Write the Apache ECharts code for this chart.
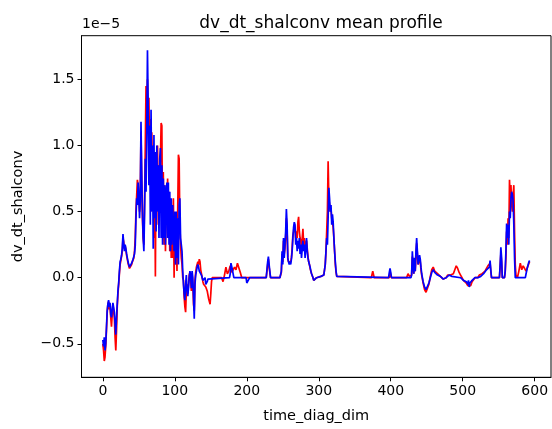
<!DOCTYPE html>
<html lang="en">
<head>
    <meta charset="UTF-8">
    <title>dv_dt_shalconv mean profile</title>
    <script src="https://cdn.jsdelivr.net/npm/echarts@6/dist/echarts.min.js"></script>
    <style>
        html, body { margin: 0; padding: 0; background: #fff; }
        #chart { width: 552px; height: 429px; }
    </style>
</head>
<body>
    <div id="chart"></div>
    <script>
        // values are in units of 1e-5
        const xTicks = [0, 100, 200, 300, 400, 500, 600];
        const yTicks = [-0.5, 0.0, 0.5, 1.0, 1.5];

        // red line (drawn first)
        const redLine = [
            [0,-0.5],[1,-0.55],[2,-0.63],[3,-0.6],[4,-0.52],[5,-0.4],[6,-0.27],[7,-0.2],[8,-0.18],[9,-0.24],
            [10,-0.22],[11,-0.3],[12,-0.37],[13,-0.28],[14,-0.2],[15,-0.21],[16,-0.3],[17,-0.45],[18,-0.55],[19,-0.4],
            [20,-0.22],[21,-0.12],[22,-0.05],[23,0.03],[24,0.1],[25,0.13],[26,0.16],[27,0.2],[28,0.3],[29,0.27],
            [30,0.22],[31,0.24],[32,0.21],[33,0.17],[34,0.14],[35,0.11],[36,0.09],[37,0.07],[38,0.06],[39,0.08],
            [40,0.1],[41,0.12],[42,0.13],[43,0.15],[44,0.2],[45,0.3],[46,0.5],[47,0.62],[48,0.74],[49,0.7],
            [50,0.6],[51,0.5],[52,0.62],[53,1.1],[54,0.75],[55,0.45],[56,0.3],[57,0.25],[58,0.6],[59,1.0],
            [60,1.45],[61,1.2],[62,1.5],[63,1.25],[64,1.36],[65,0.9],[66,1.2],[67,0.5],[68,1.1],[69,0.7],
            [70,0.9],[71,0.3],[72,0.8],[73,0.01],[74,0.9],[75,0.5],[76,1.0],[77,0.4],[78,0.85],[79,0.6],
            [80,0.9],[81,1.17],[82,1.15],[83,0.3],[84,0.8],[85,0.25],[86,0.7],[87,0.2],[88,0.6],[89,0.5],
            [90,0.75],[91,0.3],[92,0.65],[93,0.2],[94,0.55],[95,0.15],[96,0.5],[97,0.15],[98,0.6],[99,0.0],
            [100,0.45],[101,0.1],[102,0.3],[103,0.05],[104,0.5],[105,0.93],[106,0.9],[107,0.4],[108,0.25],[109,0.15],
            [110,0.1],[111,0.0],[112,-0.02],[113,-0.15],[114,-0.22],[115,-0.26],[116,-0.1],[117,-0.05],[118,-0.12],[119,-0.05],
            [120,0.02],[121,0.04],[122,-0.02],[123,-0.1],[124,0.02],[125,-0.05],[126,-0.2],[127,-0.25],[128,-0.02],[129,0.04],
            [130,0.08],[131,0.1],[132,0.12],[133,0.1],[134,0.14],[135,0.12],[136,0.06],[137,0.03],[138,0.0],[139,-0.03],
            [140,-0.05],[141,-0.04],[142,-0.06],[143,-0.07],[144,-0.07],[145,-0.1],[146,-0.13],[147,-0.16],[148,-0.18],[149,-0.2],
            [150,-0.12],[151,-0.03],[152,0.0],[165,0.0],[167,-0.03],[169,0.02],[171,0.08],[173,0.03],[175,0.05],[177,0.09],
            [179,0.04],[181,0.06],[183,0.08],[185,0.06],[187,0.11],[189,0.1],[191,0.04],[193,0.0],[227,0.0],[229,0.1],
            [230,0.14],[231,0.08],[233,0.0],[246,0.0],[248,0.04],[249,0.18],[250,0.12],[251,0.28],[252,0.18],[253,0.22],
            [254,0.3],[255,0.45],[256,0.35],[257,0.14],[258,0.12],[259,0.12],[260,0.13],[261,0.12],[262,0.15],[263,0.22],
            [264,0.32],[265,0.35],[266,0.4],[267,0.38],[268,0.3],[269,0.35],[270,0.3],[271,0.42],[272,0.46],[273,0.35],
            [274,0.3],[275,0.28],[276,0.2],[277,0.3],[278,0.37],[279,0.25],[280,0.3],[281,0.2],[282,0.25],[283,0.28],
            [284,0.22],[285,0.16],[286,0.12],[287,0.1],[288,0.07],[289,0.05],[290,0.03],[292,0.0],[293,-0.02],[295,-0.03],
            [297,0.0],[303,0.01],[305,0.0],[307,0.02],[309,0.1],[310,0.2],[311,0.35],[312,0.5],[313,0.88],[314,0.6],
            [315,0.55],[316,0.5],[317,0.52],[318,0.45],[319,0.45],[320,0.38],[321,0.3],[322,0.2],[323,0.1],[324,0.04],
            [325,0.01],[326,0.0],[373,0.0],[375,0.05],[377,0.0],[398,0.0],[399,0.05],[400,0.02],[401,0.0],[422,0.0],
            [424,0.03],[426,0.01],[429,0.02],[430,0.16],[431,0.08],[432,0.03],[433,0.12],[434,0.05],[435,0.15],[436,0.26],
            [437,0.18],[438,0.1],[439,0.09],[440,0.14],[441,0.12],[442,0.06],[443,0.02],[445,-0.04],[447,-0.09],[449,-0.11],
            [451,-0.1],[453,-0.05],[455,0.01],[457,0.06],[459,0.08],[461,0.05],[463,0.04],[465,0.03],[467,0.02],[469,0.01],
            [471,0.0],[473,-0.01],[475,-0.01],[477,0.0],[479,0.02],[481,0.03],[483,0.02],[485,0.02],[487,0.03],[489,0.06],
            [491,0.09],[493,0.07],[495,0.04],[497,0.02],[499,0.0],[501,-0.02],[503,-0.03],[505,-0.04],[507,-0.06],[509,-0.05],
            [511,-0.06],[513,-0.03],[515,-0.02],[517,0.0],[519,0.01],[521,0.0],[523,0.02],[525,0.02],[527,0.03],[529,0.04],
            [531,0.05],[533,0.07],[535,0.09],[537,0.08],[538,0.11],[539,0.05],[540,0.0],[551,0.0],[552,0.08],[553,0.18],
            [554,0.12],[555,0.0],[558,0.0],[559,0.04],[560,0.15],[561,0.35],[562,0.25],[563,0.45],[564,0.3],[565,0.74],
            [566,0.6],[567,0.7],[568,0.55],[569,0.5],[570,0.62],[571,0.7],[572,0.35],[573,0.1],[574,0.02],[576,0.0],
            [578,0.05],[580,0.11],[582,0.06],[584,0.09],[586,0.1],[588,0.05],[590,0.08],[592,0.11],[593,0.12]
        ];

        // blue line (drawn on top)
        const blueLine = [
            [0,-0.47],[1,-0.52],[2,-0.45],[3,-0.55],[4,-0.5],[5,-0.38],[6,-0.25],[7,-0.2],[8,-0.17],[9,-0.22],
            [10,-0.19],[11,-0.28],[12,-0.3],[13,-0.24],[14,-0.19],[15,-0.2],[16,-0.26],[17,-0.35],[18,-0.43],[19,-0.3],
            [20,-0.2],[21,-0.1],[22,-0.04],[23,0.05],[24,0.12],[25,0.14],[26,0.17],[27,0.22],[28,0.33],[29,0.26],
            [30,0.2],[31,0.25],[32,0.22],[33,0.18],[34,0.15],[35,0.12],[36,0.1],[37,0.08],[38,0.07],[39,0.09],
            [40,0.11],[41,0.12],[42,0.14],[43,0.13],[44,0.18],[45,0.24],[46,0.45],[47,0.6],[48,0.55],[49,0.72],
            [50,0.62],[51,0.45],[52,0.58],[53,1.18],[54,0.8],[55,0.5],[56,0.3],[57,0.2],[58,0.5],[59,0.9],
            [60,0.65],[61,1.1],[62,1.72],[63,1.3],[64,0.7],[65,1.15],[66,0.4],[67,1.27],[68,0.5],[69,1.0],
            [70,0.22],[71,1.08],[72,0.45],[73,0.95],[74,0.35],[75,1.0],[76,0.5],[77,0.85],[78,0.3],[79,0.9],
            [80,0.98],[81,0.3],[82,0.85],[83,0.25],[84,0.75],[85,0.3],[86,0.7],[87,0.25],[88,0.65],[89,0.72],
            [90,0.3],[91,0.72],[92,0.25],[93,0.65],[94,0.2],[95,0.6],[96,0.25],[97,0.55],[98,0.56],[99,0.2],
            [100,0.5],[101,0.1],[102,0.5],[103,0.15],[104,0.45],[105,0.1],[106,0.55],[107,0.6],[108,0.3],[109,0.3],
            [110,0.2],[111,0.05],[112,-0.05],[113,-0.12],[114,-0.17],[115,-0.05],[116,0.02],[117,-0.1],[118,-0.14],[119,-0.08],
            [120,0.0],[121,0.05],[122,0.02],[123,-0.08],[124,0.05],[125,0.0],[126,-0.15],[127,-0.31],[128,-0.05],[129,0.02],
            [130,0.05],[131,0.08],[132,0.1],[133,0.08],[134,0.05],[135,0.06],[136,0.04],[137,0.02],[138,0.0],[139,-0.02],
            [140,-0.03],[141,-0.02],[142,0.0],[143,-0.05],[144,-0.06],[145,-0.03],[146,-0.01],[147,0.0],[176,0.0],[177,0.03],
            [178,0.11],[180,0.06],[182,0.0],[199,0.0],[200,-0.04],[202,-0.04],[204,0.0],[227,0.0],[229,0.12],[230,0.16],
            [231,0.1],[233,0.0],[246,0.0],[248,0.05],[249,0.2],[250,0.1],[251,0.3],[252,0.15],[253,0.25],[254,0.35],
            [255,0.52],[256,0.4],[257,0.15],[258,0.12],[259,0.1],[260,0.12],[261,0.1],[262,0.14],[263,0.2],[264,0.3],
            [265,0.38],[266,0.42],[267,0.4],[268,0.25],[269,0.3],[270,0.2],[271,0.28],[272,0.22],[273,0.3],[274,0.18],
            [275,0.25],[276,0.15],[277,0.22],[278,0.28],[279,0.2],[280,0.25],[281,0.15],[282,0.22],[283,0.3],[284,0.2],
            [285,0.15],[286,0.12],[287,0.1],[288,0.08],[289,0.05],[290,0.03],[292,0.0],[293,-0.02],[295,-0.02],[297,0.0],
            [303,0.01],[305,0.0],[307,0.02],[309,0.1],[310,0.2],[311,0.3],[312,0.25],[313,0.45],[314,0.68],[315,0.6],
            [316,0.5],[317,0.55],[318,0.4],[319,0.48],[320,0.42],[321,0.3],[322,0.2],[323,0.12],[324,0.05],[325,0.01],
            [326,0.0],[397,0.0],[398,0.04],[399,0.07],[400,0.04],[401,0.0],[428,0.0],[429,0.02],[430,0.2],[431,0.1],
            [432,0.03],[433,0.15],[434,0.05],[435,0.2],[436,0.3],[437,0.2],[438,0.1],[439,0.1],[440,0.17],[441,0.14],
            [442,0.08],[443,0.03],[445,-0.03],[447,-0.07],[449,-0.09],[451,-0.08],[453,-0.04],[455,0.0],[457,0.04],[459,0.06],
            [461,0.04],[463,0.03],[465,0.02],[467,0.02],[469,0.01],[471,0.0],[473,-0.01],[475,-0.01],[477,0.0],[479,0.01],
            [481,0.02],[483,0.03],[485,0.01],[487,0.0],[497,0.0],[499,-0.01],[501,-0.02],[503,-0.02],[505,-0.03],[507,-0.05],
            [508,-0.02],[509,-0.07],[510,-0.04],[511,-0.05],[513,-0.02],[515,-0.01],[517,0.0],[519,0.01],[521,0.0],[523,0.01],
            [525,0.01],[527,0.02],[529,0.03],[531,0.04],[533,0.06],[535,0.07],[537,0.08],[538,0.13],[539,0.06],[540,0.0],
            [551,0.0],[552,0.1],[553,0.23],[554,0.15],[555,0.0],[558,0.0],[559,0.05],[560,0.2],[561,0.41],[562,0.3],
            [563,0.4],[564,0.25],[565,0.5],[566,0.45],[567,0.6],[568,0.65],[569,0.63],[570,0.58],[571,0.4],[572,0.15],
            [573,0.0],[587,0.0],[588,0.03],[590,0.08],[592,0.12],[593,0.13]
        ];

        const chart = echarts.init(document.getElementById('chart'), null, { renderer: 'canvas' });
        const font = 'DejaVu Sans';

        function fmtY(v) {
            return v.toFixed(1).replace('-', '\u2212');
        }

        const option = {
            animation: false,
            backgroundColor: '#fff',
            title: {
                text: 'dv_dt_shalconv mean profile',
                left: 316,
                top: 10,
                textAlign: 'center',
                textStyle: { fontFamily: font, fontSize: 17, fontWeight: 'normal', color: '#000' }
            },
            graphic: [{
                type: 'text',
                left: 82,
                top: 17,
                style: { text: '1e\u22125', font: '14px "DejaVu Sans"', fill: '#000' }
            }],
            grid: {
                left: 81.5, right: 1, top: 35.7, bottom: 51.7,
                show: true, borderColor: '#000', borderWidth: 1, backgroundColor: 'transparent'
            },
            xAxis: {
                type: 'value',
                min: -29.65,
                max: 622.65,
                name: 'time_diag_dim',
                nameLocation: 'middle',
                nameGap: 31,
                nameTextStyle: { fontFamily: font, fontSize: 14.5, color: '#000' },
                axisLine: { show: true, onZero: false, lineStyle: { color: '#000', width: 1 } },
                axisTick: { show: true, length: 4, customValues: xTicks, lineStyle: { color: '#000' } },
                axisLabel: { customValues: xTicks, fontFamily: font, fontSize: 14, color: '#000', margin: 7 },
                splitLine: { show: false }
            },
            yAxis: {
                type: 'value',
                min: -0.753,
                max: 1.83,
                name: 'dv_dt_shalconv',
                nameLocation: 'middle',
                nameRotate: 90,
                nameGap: 56,
                nameTextStyle: { fontFamily: font, fontSize: 14.5, color: '#000' },
                axisLine: { show: true, onZero: false, lineStyle: { color: '#000', width: 1 } },
                axisTick: { show: true, length: 4, customValues: yTicks, lineStyle: { color: '#000' } },
                axisLabel: { customValues: yTicks, fontFamily: font, fontSize: 14, color: '#000', margin: 7, formatter: fmtY },
                splitLine: { show: false }
            },
            series: [
                {
                    type: 'line',
                    data: redLine,
                    showSymbol: false,
                    lineStyle: { color: '#ff0000', width: 1.7 },
                    itemStyle: { color: '#ff0000' }
                },
                {
                    type: 'line',
                    data: blueLine,
                    showSymbol: false,
                    lineStyle: { color: '#0000ff', width: 1.7 },
                    itemStyle: { color: '#0000ff' }
                }
            ]
        };

        chart.setOption(option);
    </script>
</body>
</html>
